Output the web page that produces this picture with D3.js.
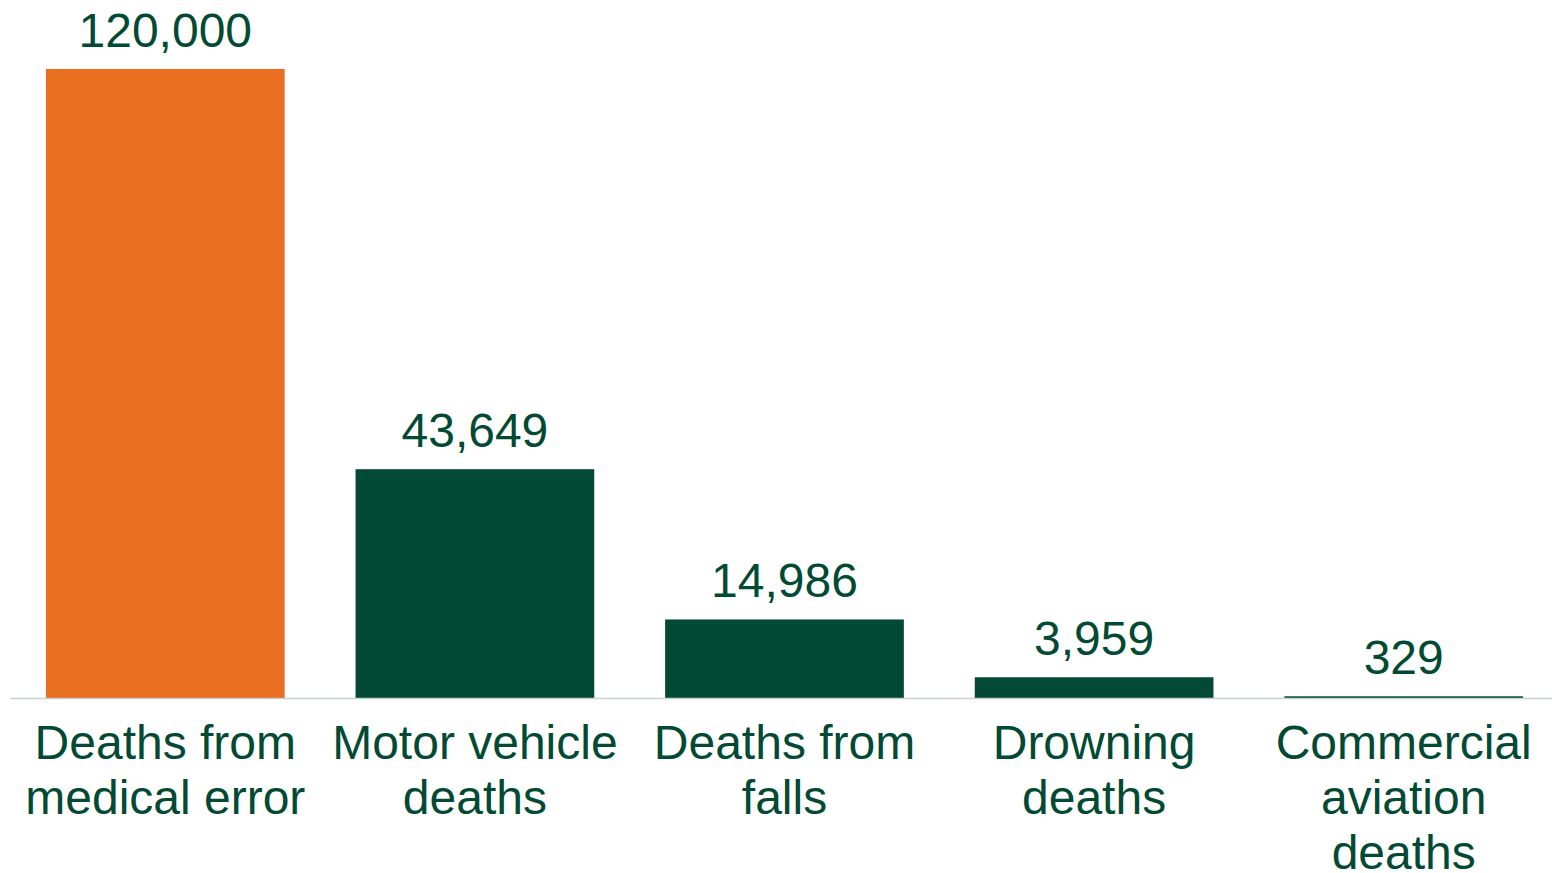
<!DOCTYPE html>
<html>
<head>
<meta charset="utf-8">
<script src="https://cdn.jsdelivr.net/npm/d3@7"></script>
<style>
  body{margin:0;background:#fff;}
  text{font-family:"Liberation Sans",Arial,sans-serif;}
</style>
</head>
<body>
<div class="canvas"></div>
<script>
// chart data
const categories=[
  ['Deaths from','medical error'],
  ['Motor vehicle','deaths'],
  ['Deaths from','falls'],
  ['Drowning','deaths'],
  ['Commercial','aviation','deaths']
];
const values=[120000,43649,14986,3959,329];
const barColours=['#e86e20','#024a34','#024a34','#024a34','#024a34'];

const dims={width:1552,height:873};
const textColour='#024a34';

const svg=d3.select('.canvas')
      .append('svg')
      .attr('width',dims.width)
      .attr('height',dims.height);

// band scale for the categories
const x=d3.scaleBand()
     .domain(d3.range(values.length))
     .range([10.5,1558.5])
     .paddingInner(0.229)
     .paddingOuter(0.1145);

// linear scale, 0 sits on the baseline
const y=d3.scaleLinear()
     .domain([0,120000])
     .range([698,69]);

const fmt=d3.format(',');

//bars
svg.append('g')
   .selectAll('rect')
   .data(values)
   .enter()
   .append('rect')
   .attr('x',(d,i)=>x(i))
   .attr('y',d=>y(d))
   .attr('width',x.bandwidth())
   .attr('height',d=>y(0)-y(d))
   .attr('fill',(d,i)=>barColours[i]);

//baseline
svg.append('line')
   .attr('x1',10).attr('x2',1552)
   .attr('y1',y(0)+0.5).attr('y2',y(0)+0.5)
   .attr('stroke','#c5d3cf')
   .attr('stroke-width',1.5);

//value labels above bars
svg.append('g')
   .selectAll('text')
   .data(values)
   .enter()
   .append('text')
   .attr('x',(d,i)=>x(i)+x.bandwidth()/2)
   .attr('y',d=>y(d)-22)
   .attr('text-anchor','middle')
   .attr('font-size',48)
   .attr('fill',textColour)
   .text(d=>fmt(d));

//category labels, one tspan per line
const labels=svg.append('g')
   .selectAll('text')
   .data(categories)
   .enter()
   .append('text')
   .attr('text-anchor','middle')
   .attr('font-size',48)
   .attr('fill',textColour)
   .attr('transform',(d,i)=>`translate(${x(i)+x.bandwidth()/2},759)`);

labels.selectAll('tspan')
   .data(d=>d)
   .enter()
   .append('tspan')
   .attr('x',0)
   .attr('y',(d,i)=>i*55)
   .text(d=>d);
</script>
</body>
</html>
